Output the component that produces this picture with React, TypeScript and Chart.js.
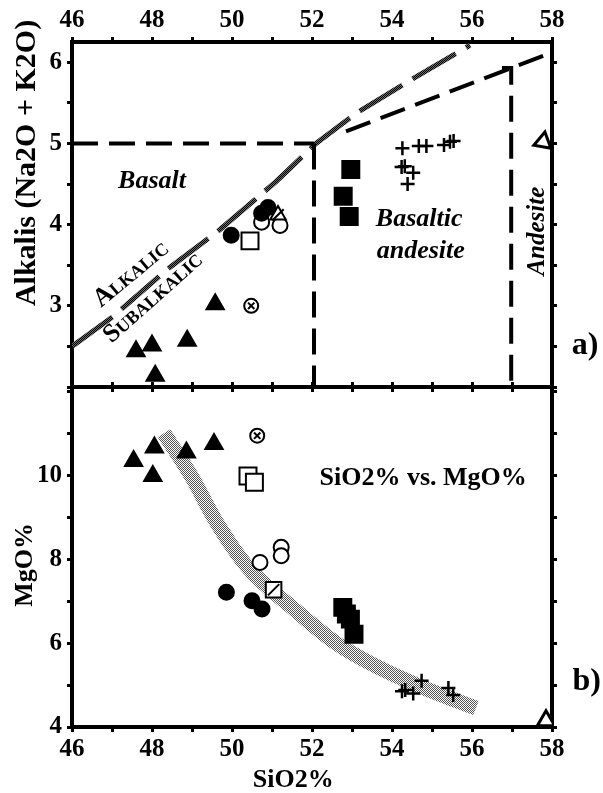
import React, { useEffect, useRef } from 'react';
import { Chart, registerables } from 'chart.js';

Chart.register(...registerables);

const FONT = '"Liberation Serif", "Times New Roman", Times, serif';

// ---------- axes ----------
const sio2Min = 46;
const sio2Max = 58;
const alkMin = 2;
const alkMax = 6.25;
const mgoMin = 4;
const mgoMax = 12.1;
const sio2TickLabels = [46, 48, 50, 52, 54, 56, 58];
const alkTickLabels = [3, 4, 5, 6];
const mgoTickLabels = [4, 6, 8, 10];

// ---------- panel a) SiO2 vs alkalis ----------
const triA_SiO2 = [47.6, 48.0, 48.08, 48.88, 49.58];
const triA_Alk = [2.44, 2.51, 2.14, 2.57, 3.02];
const fCircA_SiO2 = [49.98, 50.74, 50.9];
const fCircA_Alk = [3.87, 4.14, 4.21];
const oCircA_SiO2 = [50.74, 51.2];
const oCircA_Alk = [4.03, 3.99];
const oSqA_SiO2 = [50.45];
const oSqA_Alk = [3.8];
const slashA_SiO2 = [51.15];
const slashA_Alk = [4.12];
const xCircA_SiO2 = [50.48];
const xCircA_Alk = [3.0];
const fSqA_SiO2 = [52.97, 52.78, 52.93];
const fSqA_Alk = [4.68, 4.35, 4.1];
const plusA_SiO2 = [54.26, 54.67, 54.86, 55.3, 55.45, 55.54, 54.24, 54.53, 54.39, 54.32];
const plusA_Alk = [4.94, 4.97, 4.97, 4.98, 5.02, 5.03, 4.71, 4.64, 4.5, 4.72];
const oTriA_SiO2 = [57.78];
const oTriA_Alk = [5.02];

// classification boundaries (panel a)
const alkLine_SiO2 = [46, 47.03, 48.38, 49.7, 51.1, 52.1, 53.1, 54.6, 55.95];
const alkLine_Alk = [2.5, 2.87, 3.45, 3.94, 4.53, 5.0, 5.37, 5.82, 6.21];
const basaltTop_SiO2 = [46, 52.05];
const basaltTop_Alk = [5, 5];
const div52_SiO2 = [52.05, 52.05];
const div52_Alk = [5, 2];
const slope_SiO2 = [52.85, 58];
const slope_Alk = [5.15, 6.12];
const div57_SiO2 = [56.75, 56.98, 56.98];
const div57_Alk = [5.93, 5.93, 2];

// ---------- panel b) SiO2 vs MgO ----------
const triB_SiO2 = [47.54, 48.06, 48.02, 48.86, 49.55];
const triB_MgO = [10.34, 10.66, 9.98, 10.54, 10.74];
const xCircB_SiO2 = [50.63];
const xCircB_MgO = [10.94];
const oSqB_SiO2 = [50.4, 50.56];
const oSqB_MgO = [9.98, 9.83];
const oCircB_SiO2 = [50.7, 51.23, 51.23];
const oCircB_MgO = [7.92, 8.28, 8.08];
const slashB_SiO2 = [51.04];
const slashB_MgO = [7.27];
const fCircB_SiO2 = [49.86, 50.5, 50.75];
const fCircB_MgO = [7.21, 7.01, 6.81];
const fSqB_SiO2 = [52.77, 52.86, 52.96, 53.05];
const fSqB_MgO = [6.85, 6.69, 6.57, 6.21];
const plusB_SiO2 = [54.33, 54.53, 54.74, 55.41, 55.53, 54.25];
const plusB_MgO = [4.88, 4.8, 5.1, 4.93, 4.76, 4.85];
const oTriB_SiO2 = [57.85];
const oTriB_MgO = [4.15];

// trend band (panel b)
const trend_SiO2 = [48.3, 49.0, 49.6, 50.4, 51.5, 52.6, 53.6, 54.7, 56.1];
const trend_MgO = [11.0, 9.95, 8.9, 7.8, 6.85, 6.0, 5.45, 4.97, 4.45];

// ---------- text labels ----------
const labelsA = [
  { text: 'Alkalis (Na2O + K2O)', x: 44.875, y: 4.76, rot: -90, font: `bold 30px ${FONT}` },
  { text: 'Basalt', x: 48.0, y: 4.53, rot: 0, font: `italic bold 26px ${FONT}` },
  { text: 'Alkalic', x: 47.48, y: 3.39, rot: -39.8, font: `small-caps bold 26px ${FONT}` },
  { text: 'Subalkalic', x: 48.03, y: 3.1, rot: -41.7, font: `small-caps bold 26px ${FONT}` },
  { text: 'Basaltic', x: 54.68, y: 4.07, rot: 0, font: `italic bold 26px ${FONT}` },
  { text: 'andesite', x: 54.72, y: 3.67, rot: 0, font: `italic bold 26px ${FONT}` },
  { text: 'Andesite', x: 57.63, y: 3.92, rot: -90, font: `italic bold 25px ${FONT}` },
  { text: 'a)', x: 58.83, y: 2.51, rot: 0, font: `bold 32px ${FONT}` },
];
const labelsB = [
  { text: 'SiO2% vs. MgO%', x: 54.78, y: 9.93, rot: 0, font: `bold 26px ${FONT}` },
  { text: 'MgO%', x: 44.83, y: 7.86, rot: -90, font: `bold 26px ${FONT}` },
  { text: 'SiO2%', x: 51.53, y: 2.74, rot: 0, font: `bold 26px ${FONT}` },
  { text: 'b)', x: 58.87, y: 5.07, rot: 0, font: `bold 32px ${FONT}` },
];

const pts = (xs: number[], ys: number[]) => xs.map((x, i) => ({ x, y: ys[i] }));

const textLayer = {
  id: 'textLayer',
  afterDraw(chart: any, _args: any, opts: any) {
    const { ctx, scales } = chart;
    const xs = scales.x;
    const ys = scales.y;
    (opts.items || []).forEach((t: any) => {
      ctx.save();
      ctx.translate(xs.getPixelForValue(t.x), ys.getPixelForValue(t.y));
      ctx.rotate((t.rot * Math.PI) / 180);
      ctx.font = t.font;
      ctx.fillStyle = '#000';
      ctx.textAlign = 'center';
      ctx.textBaseline = 'middle';
      ctx.fillText(t.text, 0, 0);
      ctx.restore();
    });
  },
};

function makePattern(dark: string, light: string) {
  const c = document.createElement('canvas');
  c.width = 2;
  c.height = 2;
  const g = c.getContext('2d')!;
  g.fillStyle = light;
  g.fillRect(0, 0, 2, 2);
  g.fillStyle = dark;
  g.fillRect(0, 0, 1, 1);
  g.fillRect(1, 1, 1, 1);
  return g.createPattern(c, 'repeat');
}

const marker = (xs: number[], ys: number[], style: string, r: number, filled: boolean, extra: any = {}) => ({
  data: pts(xs, ys),
  xAxisID: 'x',
  yAxisID: 'y',
  showLine: false,
  pointStyle: style,
  pointRadius: r,
  pointHoverRadius: r,
  pointBackgroundColor: filled ? '#000' : '#fff',
  pointBorderColor: '#000',
  pointBorderWidth: 2,
  order: 1,
  ...extra,
});

const path = (xs: number[], ys: number[], color: any, width: number, dash: number[], extra: any = {}) => ({
  data: pts(xs, ys),
  xAxisID: 'x',
  yAxisID: 'y',
  showLine: true,
  borderColor: color,
  borderWidth: width,
  borderDash: dash,
  borderCapStyle: 'butt',
  pointRadius: 0,
  pointHoverRadius: 0,
  fill: false,
  tension: 0,
  order: 10,
  ...extra,
});

const tickGrid = { drawOnChartArea: false, drawTicks: true, tickLength: 5, color: '#000', lineWidth: 3 };
const axisBorder = { display: true, width: 4, color: '#000' };
const tickFont = { family: FONT, size: 25, weight: 'bold' as const };

const fixBox = (size: number, horizontal: boolean) => (s: any) => {
  if (horizontal) s.height = size;
  else s.width = size;
  s.paddingTop = 0;
  s.paddingBottom = 0;
  s.paddingLeft = 0;
  s.paddingRight = 0;
};

function buildScales(yMin: number, yMax: number, yStep: number, yLabels: number[], topLabels: boolean, canvasH: number, areaTop: number, areaBottom: number) {
  return {
    x: {
      type: 'linear',
      position: 'bottom',
      min: sio2Min,
      max: sio2Max,
      grid: tickGrid,
      border: axisBorder,
      ticks: {
        stepSize: 1,
        display: !topLabels,
        autoSkip: false,
        maxRotation: 0,
        padding: 3,
        color: '#000',
        font: tickFont,
        callback: (v: any) => (sio2TickLabels.includes(v) ? String(v) : ''),
      },
      afterFit: fixBox(canvasH - areaBottom, true),
    },
    xTop: {
      type: 'linear',
      position: 'top',
      min: sio2Min,
      max: sio2Max,
      grid: tickGrid,
      border: axisBorder,
      ticks: {
        stepSize: 1,
        display: topLabels,
        autoSkip: false,
        maxRotation: 0,
        padding: 1,
        color: '#000',
        font: tickFont,
        callback: (v: any) => (sio2TickLabels.includes(v) ? String(v) : ''),
      },
      afterFit: fixBox(areaTop, true),
    },
    y: {
      type: 'linear',
      position: 'left',
      min: yMin,
      max: yMax,
      grid: tickGrid,
      border: axisBorder,
      ticks: {
        stepSize: yStep,
        includeBounds: false,
        autoSkip: false,
        padding: 5,
        color: '#000',
        font: tickFont,
        callback: (v: any) => (yLabels.includes(v) ? String(v) : ''),
      },
      afterFit: fixBox(72, false),
    },
    yRight: {
      type: 'linear',
      position: 'right',
      min: yMin,
      max: yMax,
      grid: tickGrid,
      border: axisBorder,
      ticks: { stepSize: yStep, includeBounds: false, display: false },
      afterFit: fixBox(51, false),
    },
  };
}

export default function App() {
  const topRef = useRef<HTMLCanvasElement>(null);
  const botRef = useRef<HTMLCanvasElement>(null);

  useEffect(() => {
    const bandPattern = makePattern('#555555', '#ffffff');
    const linePattern = makePattern('#000000', '#6a6a6a');
    const dash = [26, 11];

    const topChart = new Chart(topRef.current as HTMLCanvasElement, {
      type: 'scatter',
      data: {
        datasets: [
          marker(triA_SiO2, triA_Alk, 'triangle', 10, true),
          marker(fCircA_SiO2, fCircA_Alk, 'circle', 7.5, true),
          marker(slashA_SiO2, slashA_Alk, 'line', 8, false, { pointRotation: -45 }),
          marker(slashA_SiO2, slashA_Alk, 'triangle', 9, false),
          marker(oCircA_SiO2, oCircA_Alk, 'circle', 7.5, false),
          marker(oSqA_SiO2, oSqA_Alk, 'rect', 12, false),
          marker(xCircA_SiO2, xCircA_Alk, 'crossRot', 4.5, false),
          marker(xCircA_SiO2, xCircA_Alk, 'circle', 7, false),
          marker(fSqA_SiO2, fSqA_Alk, 'rect', 12, true),
          marker(plusA_SiO2, plusA_Alk, 'cross', 7, false, { pointBorderWidth: 2.5 }),
          marker(oTriA_SiO2, oTriA_Alk, 'triangle', 10, false, { pointBorderWidth: 3, pointRotation: 10 }),
          path(basaltTop_SiO2, basaltTop_Alk, '#000', 4, dash),
          path(div52_SiO2, div52_Alk, '#000', 4, dash),
          path(slope_SiO2, slope_Alk, '#000', 4, dash),
          path(div57_SiO2, div57_Alk, '#000', 4, dash),
          path(alkLine_SiO2, alkLine_Alk, linePattern, 5, [50, 12]),
        ] as any,
      },
      options: {
        responsive: false,
        animation: false,
        events: [],
        layout: { padding: 0, autoPadding: false },
        plugins: {
          legend: { display: false },
          tooltip: { enabled: false },
          textLayer: { items: labelsA },
        } as any,
        scales: buildScales(alkMin, alkMax, 0.5, alkTickLabels, true, 394, 42, 387) as any,
      },
      plugins: [textLayer],
    });

    const botChart = new Chart(botRef.current as HTMLCanvasElement, {
      type: 'scatter',
      data: {
        datasets: [
          marker(triB_SiO2, triB_MgO, 'triangle', 10, true),
          marker(xCircB_SiO2, xCircB_MgO, 'crossRot', 4.5, false),
          marker(xCircB_SiO2, xCircB_MgO, 'circle', 7, false),
          marker(oSqB_SiO2, oSqB_MgO, 'rect', 12, false),
          marker(oCircB_SiO2, oCircB_MgO, 'circle', 7.5, false),
          marker(slashB_SiO2, slashB_MgO, 'line', 8, false, { pointRotation: -45 }),
          marker(slashB_SiO2, slashB_MgO, 'rect', 11, false),
          marker(fCircB_SiO2, fCircB_MgO, 'circle', 7.5, true),
          marker(fSqB_SiO2, fSqB_MgO, 'rect', 12, true),
          marker(plusB_SiO2, plusB_MgO, 'cross', 7, false, { pointBorderWidth: 2.5 }),
          marker(oTriB_SiO2, oTriB_MgO, 'triangle', 10, false, { pointBorderWidth: 3 }),
          path(trend_SiO2, trend_MgO, bandPattern, 15, [], { cubicInterpolationMode: 'monotone' }),
        ] as any,
      },
      options: {
        responsive: false,
        animation: false,
        events: [],
        layout: { padding: 0, autoPadding: false },
        plugins: {
          legend: { display: false },
          tooltip: { enabled: false },
          textLayer: { items: labelsB },
        } as any,
        scales: buildScales(mgoMin, mgoMax, 1, mgoTickLabels, false, 413, 7, 347) as any,
      },
      plugins: [textLayer],
    });

    return () => {
      topChart.destroy();
      botChart.destroy();
    };
  }, []);

  return (
    <div style={{ position: 'absolute', left: 0, top: 0, width: 603, height: 793, background: '#fff' }}>
      <canvas
        ref={topRef}
        width={603}
        height={394}
        style={{ position: 'absolute', left: 0, top: 0, width: 603, height: 394 }}
      />
      <canvas
        ref={botRef}
        width={603}
        height={413}
        style={{ position: 'absolute', left: 0, top: 380, width: 603, height: 413 }}
      />
    </div>
  );
}
